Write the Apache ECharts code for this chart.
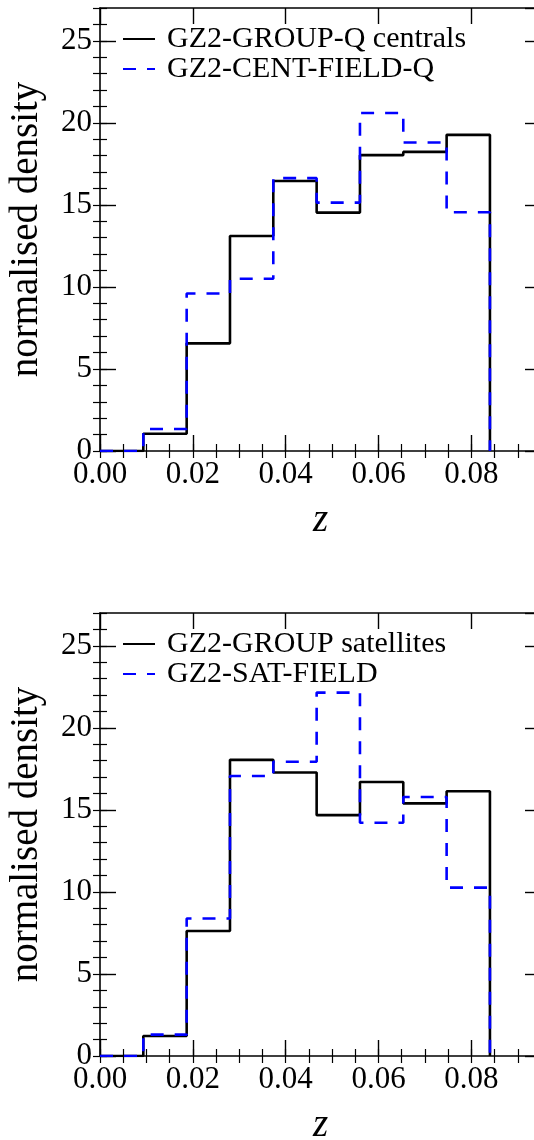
<!DOCTYPE html>
<html>
<head>
<meta charset="utf-8">
<script src="https://cdn.jsdelivr.net/npm/echarts@6/dist/echarts.min.js"></script>
<style>
  html, body { margin: 0; padding: 0; background: #fff; }
  #chart { width: 534px; height: 1140px; }
</style>
</head>
<body>
<div id="chart"></div>
<script>
// bin edges in redshift
var binEdges = [0, 0.00933, 0.01867, 0.028, 0.03733, 0.04667, 0.056, 0.06533, 0.07467, 0.084];

// top panel: centrals
var groupQCentrals = [0, 1.05, 6.56, 13.1, 16.46, 14.53, 18.03, 18.23, 19.27];
var centFieldQ = [0, 1.34, 9.6, 10.5, 16.63, 15.14, 20.6, 18.8, 14.55];

// bottom panel: satellites
var groupSatellites = [0, 1.22, 7.62, 18.05, 17.28, 14.68, 16.7, 15.4, 16.14];
var satField = [0, 1.3, 8.38, 17.07, 17.93, 22.15, 14.22, 15.79, 10.26];

var xTickLabels = ['0.00', '0.02', '0.04', '0.06', '0.08'];

var chart = echarts.init(document.getElementById('chart'));

var FONT = 'Liberation Serif';
var gridTops = [8, 613];

// step points: left edge of every bin, then drop at the last edge
function stepData(vals) {
  var pts = [];
  for (var i = 0; i < vals.length; i++) pts.push([binEdges[i], vals[i]]);
  pts.push([binEdges[binEdges.length - 1], 0]);
  return pts;
}

function xAxes(g) {
  var base = {
    type: 'value', gridIndex: g, min: 0, max: 0.095,
    axisLine: { onZero: false, lineStyle: { color: '#000', width: 1.6 } },
    splitLine: { show: false }
  };
  var lab = {
    show: true, color: '#000', fontFamily: FONT, fontSize: 31, margin: 8,
    showMaxLabel: false,
    formatter: function (v) {
      var i = Math.round(v / 0.02);
      return xTickLabels[i] !== undefined && Math.abs(v - i * 0.02) < 1e-9 ? xTickLabels[i] : '';
    }
  };
  return [
    Object.assign({}, base, {
      position: 'bottom', interval: 0.02, axisLabel: lab,
      axisTick: { inside: true, length: 16, lineStyle: { color: '#000', width: 1.4 } },
      name: 'z', nameLocation: 'middle', nameGap: 50,
      nameTextStyle: { fontFamily: FONT, fontStyle: 'italic', fontSize: 39, color: '#000' }
    }),
    Object.assign({}, base, {
      position: 'bottom', interval: 0.005, axisLabel: { show: false },
      axisLine: { show: false },
      axisTick: { inside: true, length: 7, lineStyle: { color: '#000', width: 1.2 } }
    }),
    Object.assign({}, base, {
      position: 'top', interval: 0.02, axisLabel: { show: false },
      axisTick: { inside: true, length: 16, lineStyle: { color: '#000', width: 1.4 } }
    }),
    Object.assign({}, base, {
      position: 'top', interval: 0.005, axisLabel: { show: false },
      axisLine: { show: false },
      axisTick: { inside: true, length: 7, lineStyle: { color: '#000', width: 1.2 } }
    })
  ];
}

function yAxes(g) {
  var base = {
    type: 'value', gridIndex: g, min: 0, max: 27,
    axisLine: { onZero: false, lineStyle: { color: '#000', width: 1.6 } },
    splitLine: { show: false }
  };
  return [
    Object.assign({}, base, {
      position: 'left', interval: 5,
      axisLabel: { color: '#000', fontFamily: FONT, fontSize: 31, margin: 8, showMaxLabel: false },
      axisTick: { inside: true, length: 16, lineStyle: { color: '#000', width: 1.4 } },
      name: 'normalised density', nameLocation: 'middle', nameGap: 54, nameRotate: 90,
      nameTextStyle: { fontFamily: FONT, fontSize: 39, color: '#000' }
    }),
    Object.assign({}, base, {
      position: 'left', interval: 1, axisLabel: { show: false },
      axisLine: { show: false },
      axisTick: { inside: true, length: 7, lineStyle: { color: '#000', width: 1.2 } }
    }),
    Object.assign({}, base, {
      position: 'right', interval: 5, axisLabel: { show: false },
      axisTick: { inside: true, length: 16, lineStyle: { color: '#000', width: 1.4 } }
    }),
    Object.assign({}, base, {
      position: 'right', interval: 1, axisLabel: { show: false },
      axisLine: { show: false },
      axisTick: { inside: true, length: 7, lineStyle: { color: '#000', width: 1.2 } }
    })
  ];
}

function histSeries(name, vals, g, dashed) {
  return {
    name: name, type: 'line', step: 'end', symbol: 'none',
    xAxisIndex: 4 * g, yAxisIndex: 4 * g,
    data: stepData(vals),
    lineStyle: dashed
      ? { color: '#0000ff', width: 2.6, type: [13, 11] }
      : { color: '#000000', width: 2.6 },
    itemStyle: { color: dashed ? '#0000ff' : '#000000' },
    animation: false
  };
}

function legendFor(g, names) {
  return {
    gridIndex: g, orient: 'vertical', left: 122, top: gridTops[g] + 16,
    padding: 0, itemGap: 0, itemWidth: 32, itemHeight: 30,
    itemStyle: { opacity: 0 },
    data: names,
    textStyle: { fontFamily: FONT, fontSize: 30, color: '#000', padding: [0, 0, 0, 7] }
  };
}

var option = {
  animation: false,
  grid: [
    { left: 100, top: gridTops[0], width: 441, height: 443, outerBoundsMode: 'none' },
    { left: 100, top: gridTops[1], width: 441, height: 443, outerBoundsMode: 'none' }
  ],
  legend: [
    legendFor(0, ['GZ2-GROUP-Q centrals', 'GZ2-CENT-FIELD-Q']),
    legendFor(1, ['GZ2-GROUP satellites', 'GZ2-SAT-FIELD'])
  ],
  xAxis: xAxes(0).concat(xAxes(1)),
  yAxis: yAxes(0).concat(yAxes(1)),
  series: [
    histSeries('GZ2-GROUP-Q centrals', groupQCentrals, 0, false),
    histSeries('GZ2-CENT-FIELD-Q', centFieldQ, 0, true),
    histSeries('GZ2-GROUP satellites', groupSatellites, 1, false),
    histSeries('GZ2-SAT-FIELD', satField, 1, true)
  ]
};

chart.setOption(option);
</script>
</body>
</html>
